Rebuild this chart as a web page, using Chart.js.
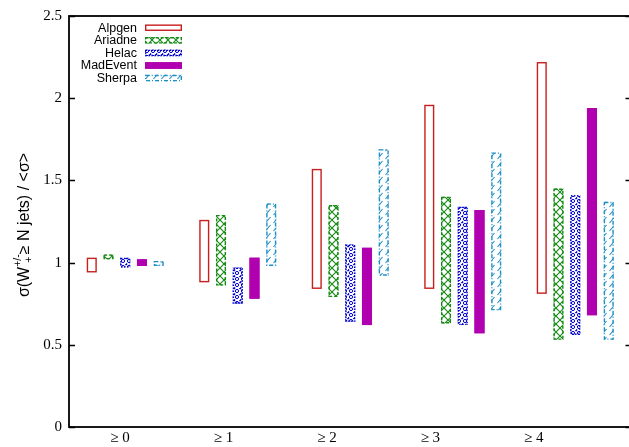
<!DOCTYPE html>
<html>
<head>
<meta charset="utf-8">
<script src="https://cdn.jsdelivr.net/npm/chart.js@4.4.1/dist/chart.umd.min.js"></script>
<style>
html,body{margin:0;padding:0;background:#fff;overflow:hidden;width:629px;height:447px;}
canvas{display:block;}
</style>
</head>
<body>
<canvas id="c" width="640" height="447"></canvas>
<script>
// ---- data ----
const categories = ['\u2265 0', '\u2265 1', '\u2265 2', '\u2265 3', '\u2265 4'];
const generators = ['Alpgen', 'Ariadne', 'Helac', 'MadEvent', 'Sherpa'];
const alpgenLow   = [0.94, 0.88, 0.84, 0.84, 0.81];
const alpgenHigh  = [1.03, 1.26, 1.57, 1.96, 2.22];
const ariadneLow  = [1.02, 0.86, 0.79, 0.63, 0.53];
const ariadneHigh = [1.05, 1.29, 1.35, 1.40, 1.45];
const helacLow    = [0.97, 0.75, 0.64, 0.62, 0.56];
const helacHigh   = [1.03, 0.97, 1.11, 1.34, 1.41];
const madLow      = [0.98, 0.78, 0.62, 0.57, 0.68];
const madHigh     = [1.02, 1.03, 1.09, 1.32, 1.94];
const sherpaLow   = [0.98, 0.98, 0.92, 0.71, 0.53];
const sherpaHigh  = [1.01, 1.36, 1.69, 1.67, 1.37];
const yTicks = [0, 0.5, 1, 1.5, 2, 2.5];
const yTickLabels = ['0', '0.5', '1', '1.5', '2', '2.5'];

// ---- styles ----
const SERIF = "'Liberation Serif', 'DejaVu Serif', serif";
const SANS = "'Liberation Sans', Arial, sans-serif";
const colors = ['#c81e1e', '#138a13', '#0000c8', '#b000b0', '#1f8fc4'];

function makePattern(kind, color) {
  const t = document.createElement('canvas');
  const g = t.getContext('2d');
  if (kind === 'cross') {
    t.width = 8; t.height = 8;
    g.strokeStyle = color; g.lineWidth = 1.1;
    g.beginPath(); g.moveTo(0, 0); g.lineTo(8, 8); g.moveTo(8, 0); g.lineTo(0, 8); g.stroke();
  } else if (kind === 'dots') {
    t.width = 6; t.height = 6;
    g.strokeStyle = color; g.fillStyle = color; g.lineWidth = 1;
    g.beginPath(); g.arc(3, 3, 1.6, 0, Math.PI * 2); g.stroke();
    g.fillRect(0, 0, 1.2, 1.2); g.fillRect(5.2, 0, 0.8, 1.2); g.fillRect(0, 5.2, 1.2, 0.8);
  } else if (kind === 'diag') {
    t.width = 8; t.height = 8;
    g.strokeStyle = color; g.lineWidth = 1.1;
    g.beginPath(); g.moveTo(1.5, 7); g.lineTo(6.5, 1); g.stroke();
  }
  return g.createPattern(t, 'repeat');
}

const fills = [
  '#ffffff',
  makePattern('cross', colors[1]),
  makePattern('dots', colors[2]),
  colors[3],
  makePattern('diag', colors[4])
];
const dashes = [[], [3, 2], [1.5, 1.5], [], [4, 2, 1, 2]];
const lows = [alpgenLow, ariadneLow, helacLow, madLow, sherpaLow];
const highs = [alpgenHigh, ariadneHigh, helacHigh, madHigh, sherpaHigh];

const datasets = generators.map((name, k) => ({
  label: name,
  data: categories.map((c, i) => ({ x: i, y: [lows[k][i], highs[k][i]] })),
  backgroundColor: fills[k],
  borderWidth: 0,
  outlineColor: colors[k],
  outlineDash: dashes[k]
}));

// outlines (dashed) on the bar elements computed by Chart.js
const outlinePlugin = {
  id: 'outlines',
  afterDatasetsDraw(chart) {
    const ctx = chart.ctx;
    chart.data.datasets.forEach((ds, di) => {
      const meta = chart.getDatasetMeta(di);
      meta.data.forEach(el => {
        const p = el.getProps(['x', 'y', 'base', 'width'], true);
        const left = p.x - p.width / 2;
        const top = Math.min(p.y, p.base);
        const h = Math.abs(p.base - p.y);
        ctx.save();
        ctx.strokeStyle = ds.outlineColor;
        ctx.lineWidth = 1.4;
        ctx.setLineDash(ds.outlineDash);
        ctx.strokeRect(left + 0.7, top + 0.7, p.width - 1.4, h - 1.4);
        ctx.restore();
      });
    });
  }
};

// frame with inward ticks (gnuplot style)
const framePlugin = {
  id: 'frame',
  afterDraw(chart) {
    const ctx = chart.ctx;
    const a = chart.chartArea;
    const ys = chart.scales.y;
    ctx.save();
    ctx.strokeStyle = '#000';
    ctx.lineWidth = 1.5;
    ctx.beginPath();
    ys.ticks.forEach(t => {
      const py = Math.round(ys.getPixelForValue(t.value)) + 0.5;
      ctx.moveTo(a.left, py); ctx.lineTo(a.left + 6, py);
      ctx.moveTo(a.right, py); ctx.lineTo(a.right - 6, py);
    });
    ctx.stroke();
    ctx.lineWidth = 1.8;
    ctx.strokeRect(a.left, a.top, a.right - a.left, a.bottom - a.top);
    ctx.restore();
  }
};

// legend, drawn top-left inside the plot, text to the left of the sample
const legendPlugin = {
  id: 'gpLegend',
  afterDraw(chart) {
    const ctx = chart.ctx;
    const a = chart.chartArea;
    ctx.save();
    ctx.font = '12.5px ' + SANS;
    ctx.textAlign = 'right';
    ctx.textBaseline = 'middle';
    chart.data.datasets.forEach((ds, k) => {
      const cy = a.top + 11.7 + k * 12.6;
      ctx.fillStyle = '#000';
      ctx.fillText(ds.label, a.left + 68, cy + 0.5);
      const bx = a.left + 76, bw = 37, bh = 6.5, by = cy - bh / 2;
      ctx.fillStyle = ds.backgroundColor;
      ctx.fillRect(bx, by, bw, bh);
      ctx.strokeStyle = ds.outlineColor;
      ctx.lineWidth = 1.4;
      ctx.setLineDash(ds.outlineDash);
      ctx.strokeRect(bx + 0.7, by + 0.7, bw - 1.4, bh - 1.4);
      ctx.setLineDash([]);
    });
    ctx.restore();
  }
};

// y-axis title with super/subscripts
const yTitlePlugin = {
  id: 'yTitle',
  afterDraw(chart) {
    const ctx = chart.ctx;
    const a = chart.chartArea;
    const big = '16px ' + SANS, small = '10.5px ' + SANS;
    const parts = [
      { t: '\u03c3(W', f: big, dy: 0 },
      { t: '+/-', f: small, dy: -8.5 },
      { t: '+', f: small, dy: 3 },
      { t: '\u2265 N jets) / <\u03c3>', f: big, dy: 0 }
    ];
    parts.forEach(p => { ctx.font = p.f; p.w = ctx.measureText(p.t).width; });
    const total = parts[0].w + Math.max(parts[1].w, parts[2].w + 4) + parts[3].w;
    ctx.save();
    ctx.translate(29, 225);
    ctx.rotate(-Math.PI / 2);
    ctx.fillStyle = '#000';
    ctx.textBaseline = 'alphabetic';
    ctx.textAlign = 'left';
    let x = -total / 2;
    ctx.font = parts[0].f; ctx.fillText(parts[0].t, x, 0); x += parts[0].w;
    ctx.font = parts[1].f; ctx.fillText(parts[1].t, x, parts[1].dy);
    ctx.font = parts[2].f; ctx.fillText(parts[2].t, x + 4, parts[2].dy);
    x += Math.max(parts[1].w, parts[2].w + 4);
    ctx.font = parts[3].f; ctx.fillText(parts[3].t, x, 0);
    ctx.restore();
  }
};

new Chart(document.getElementById('c'), {
  type: 'bar',
  data: { datasets },
  options: {
    responsive: false,
    animation: false,
    events: [],
    layout: { padding: { top: 14, right: 8.5, left: 0, bottom: 0 } },
    datasets: { bar: { categoryPercentage: 0.744, barPercentage: 0.6, grouped: true } },
    scales: {
      x: {
        type: 'linear', min: -0.5, max: 4.5, offset: false, display: false,
        afterBuildTicks: s => { s.ticks = categories.map((c, i) => ({ value: i })); }
      },
      xl: {
        type: 'linear', position: 'bottom', min: -0.493, max: 4.944, offset: false,
        afterBuildTicks: s => { s.ticks = categories.map((c, i) => ({ value: i })); },
        afterFit: s => { s.height = 20; },
        grid: { display: false, drawTicks: false },
        border: { display: false },
        ticks: {
          autoSkip: false, maxRotation: 0, padding: 2, color: '#000',
          font: { family: SERIF, size: 15 },
          callback: v => categories[v]
        }
      },
      y: {
        type: 'linear', min: 0, max: 2.5,
        afterBuildTicks: s => { s.ticks = yTicks.map(v => ({ value: v })); },
        afterFit: s => { s.width = 69; },
        grid: { display: false, drawTicks: false },
        border: { display: false },
        ticks: {
          padding: 7, color: '#000', font: { family: SERIF, size: 15 },
          callback: v => yTickLabels[yTicks.indexOf(v)]
        }
      }
    },
    plugins: { legend: { display: false }, tooltip: { enabled: false }, title: { display: false } }
  },
  plugins: [outlinePlugin, framePlugin, legendPlugin, yTitlePlugin]
});
</script>
</body>
</html>
